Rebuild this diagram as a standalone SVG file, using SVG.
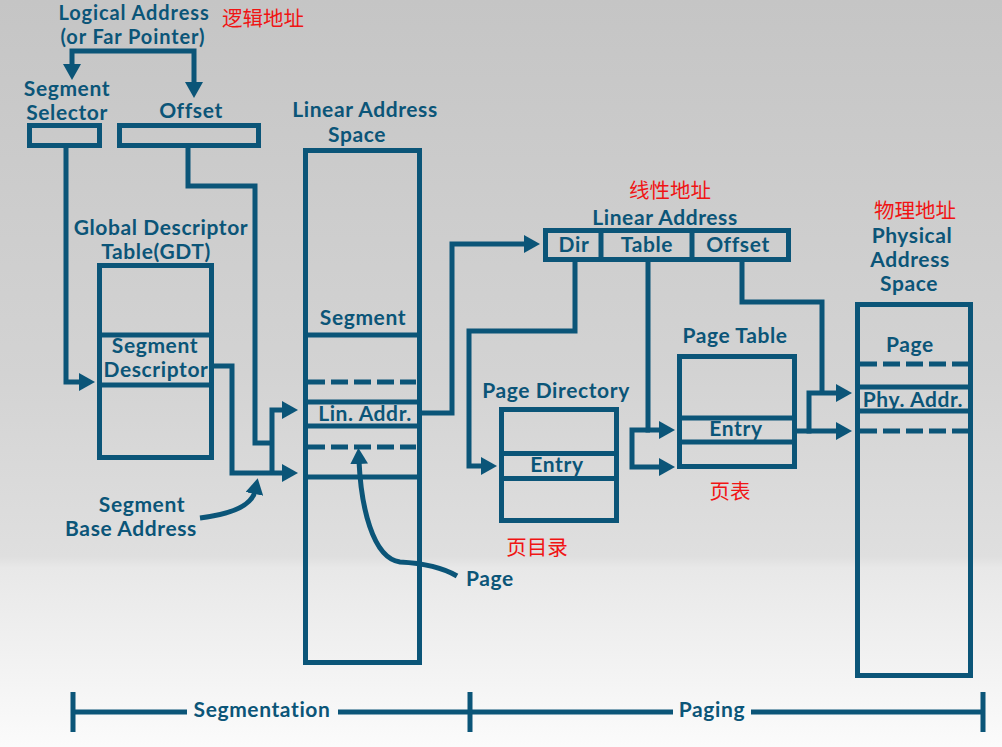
<svg xmlns="http://www.w3.org/2000/svg" width="1002" height="747" viewBox="0 0 1002 747">
<defs>
<linearGradient id="bg" x1="0" y1="0" x2="0" y2="1">
<stop offset="0" stop-color="#c5c5c5"/>
<stop offset="0.5" stop-color="#d3d3d3"/>
<stop offset="0.745" stop-color="#dfdfdf"/>
<stop offset="0.76" stop-color="#e8e8e8"/>
<stop offset="1" stop-color="#fbfbfb"/>
</linearGradient>
<marker id="ah" viewBox="0 0 16 18" refX="3" refY="9" markerWidth="16" markerHeight="18" markerUnits="userSpaceOnUse" orient="auto">
<path d="M0,0 L16,9 L0,18 z" fill="#0b5578"/>
</marker>
<style>
.bx{fill:none;stroke:#0b5578;stroke-width:5}
.ln{fill:none;stroke:#0b5578;stroke-width:5;stroke-linejoin:miter}
.ds{fill:none;stroke:#0b5578;stroke-width:5;stroke-dasharray:17 6}
.ar{fill:none;stroke:#0b5578;stroke-width:5;stroke-linejoin:miter;marker-end:url(#ah)}
.t{font-family:Lato,"Liberation Sans",sans-serif;font-weight:700;font-size:21px;letter-spacing:0.6px;fill:#0b5578;text-anchor:middle}
.ts{font-size:20px;letter-spacing:0.9px}
.r{font-family:"Noto Sans CJK SC",sans-serif;font-size:20.5px;fill:#f01414;text-anchor:middle}
</style>
</defs>
<rect x="0" y="0" width="1002" height="747" fill="url(#bg)"/>

<g id="logical-address">
<text class="t ts" x="134" y="20">Logical Address</text>
<text class="t ts" x="133" y="44">(or Far Pointer)</text>
<text class="r" x="263" y="26">逻辑地址</text>
</g>

<g id="segment-selector">
<text class="t" x="67" y="96">Segment</text>
<text class="t" x="67" y="120">Selector</text>
<rect class="bx" x="29.5" y="125.5" width="70" height="20"/>
</g>

<g id="offset">
<text class="t" x="191" y="118">Offset</text>
<rect class="bx" x="119.5" y="125.5" width="139" height="20"/>
</g>

<g id="gdt">
<text class="t" x="161" y="235">Global Descriptor</text>
<text class="t" x="156" y="259">Table(GDT)</text>
<rect class="bx" x="99.5" y="265.5" width="112" height="192"/>
<line class="ln" x1="99.5" y1="335" x2="211.5" y2="335"/>
<line class="ln" x1="99.5" y1="385" x2="211.5" y2="385"/>
<text class="t" x="155" y="353">Segment</text>
<text class="t" x="156" y="377">Descriptor</text>
</g>

<g id="segment-base-address">
<text class="t" x="142" y="512">Segment</text>
<text class="t" x="131" y="536">Base Address</text>
</g>

<g id="linear-address-space">
<text class="t" x="365" y="117">Linear Address</text>
<text class="t" x="357" y="142">Space</text>
<rect class="bx" x="305.5" y="150.5" width="114" height="512"/>
<text class="t" x="363" y="325">Segment</text>
<line class="ln" x1="305.5" y1="335" x2="419.5" y2="335"/>
<line class="ds" x1="308" y1="382" x2="416" y2="382"/>
<line class="ln" x1="305.5" y1="402" x2="419.5" y2="402"/>
<text class="t" x="365" y="421">Lin. Addr.</text>
<line class="ln" x1="305.5" y1="426" x2="419.5" y2="426"/>
<line class="ds" x1="308" y1="447" x2="416" y2="447"/>
<line class="ln" x1="305.5" y1="477" x2="419.5" y2="477"/>
</g>

<g id="page-label">
<text class="t" x="490" y="586">Page</text>
</g>

<g id="linear-address">
<text class="r" x="670" y="198">线性地址</text>
<text class="t" x="665" y="225">Linear Address</text>
<rect class="bx" x="545.5" y="230.5" width="243" height="29"/>
<line class="ln" x1="601" y1="230.5" x2="601" y2="259.5"/>
<line class="ln" x1="692" y1="230.5" x2="692" y2="259.5"/>
<text class="t" x="574" y="252">Dir</text>
<text class="t" x="647" y="252">Table</text>
<text class="t" x="738" y="252">Offset</text>
</g>

<g id="page-directory">
<text class="t" x="556" y="398">Page Directory</text>
<rect class="bx" x="501.5" y="409.5" width="115" height="111"/>
<line class="ln" x1="501.5" y1="453.5" x2="616.5" y2="453.5"/>
<line class="ln" x1="501.5" y1="478.5" x2="616.5" y2="478.5"/>
<text class="t" x="557" y="472">Entry</text>
<text class="r" x="537" y="555">页目录</text>
</g>

<g id="page-table">
<text class="t" x="735" y="343">Page Table</text>
<rect class="bx" x="679.5" y="356.5" width="115" height="110"/>
<line class="ln" x1="679.5" y1="418" x2="794.5" y2="418"/>
<line class="ln" x1="679.5" y1="442" x2="794.5" y2="442"/>
<text class="t" x="736" y="436">Entry</text>
<text class="r" x="730" y="499">页表</text>
</g>

<g id="physical-address-space">
<text class="r" x="915" y="218">物理地址</text>
<text class="t" x="912" y="243">Physical</text>
<text class="t" x="910" y="267">Address</text>
<text class="t" x="909" y="291">Space</text>
<rect class="bx" x="857.5" y="304.5" width="113" height="371"/>
<text class="t" x="910" y="352">Page</text>
<line class="ds" x1="860" y1="364" x2="968" y2="364"/>
<line class="ln" x1="857.5" y1="387" x2="970.5" y2="387"/>
<text class="t" x="913" y="407">Phy. Addr.</text>
<line class="ln" x1="857.5" y1="411" x2="970.5" y2="411"/>
<line class="ds" x1="860" y1="431" x2="968" y2="431"/>
</g>

<g id="connectors">
<path class="ar" d="M134,51 H72 V67"/>
<path class="ar" d="M134,51 H194 V85"/>
<path class="ar" d="M66,148 V382 H82"/>
<path class="ln" d="M188,148 V186 H255 V443 H274"/>
<path class="ar" d="M272,475 V410 H285"/>
<path class="ar" d="M214,366 H232 V473 H285"/>
<path class="ar" d="M200,518 C232,514 252,505 255,491"/>
<path class="ar" d="M422,413 H452 V244 H527"/>
<path class="ar" d="M457,576 C440,566 420,563 400,562 C372,558 361,505 359,461"/>
<path class="ar" d="M575,262 V331 H469 V466 H484"/>
<path class="ar" d="M648,262 V430 H662"/>
<path class="ar" d="M650,430 H632 V467 H662"/>
<path class="ln" d="M742,262 V302 H822 V395"/>
<path class="ar" d="M809,433.5 V393 H839"/>
<path class="ar" d="M797,431 H839"/>
</g>

<g id="scale">
<path class="ln" d="M73,712 H187 M338,712 H673 M751,712 H983"/>
<path class="ln" d="M73,692 V732 M470,692 V732 M983,692 V732"/>
<text class="t" x="262" y="717">Segmentation</text>
<text class="t" x="712" y="717">Paging</text>
</g>
</svg>
